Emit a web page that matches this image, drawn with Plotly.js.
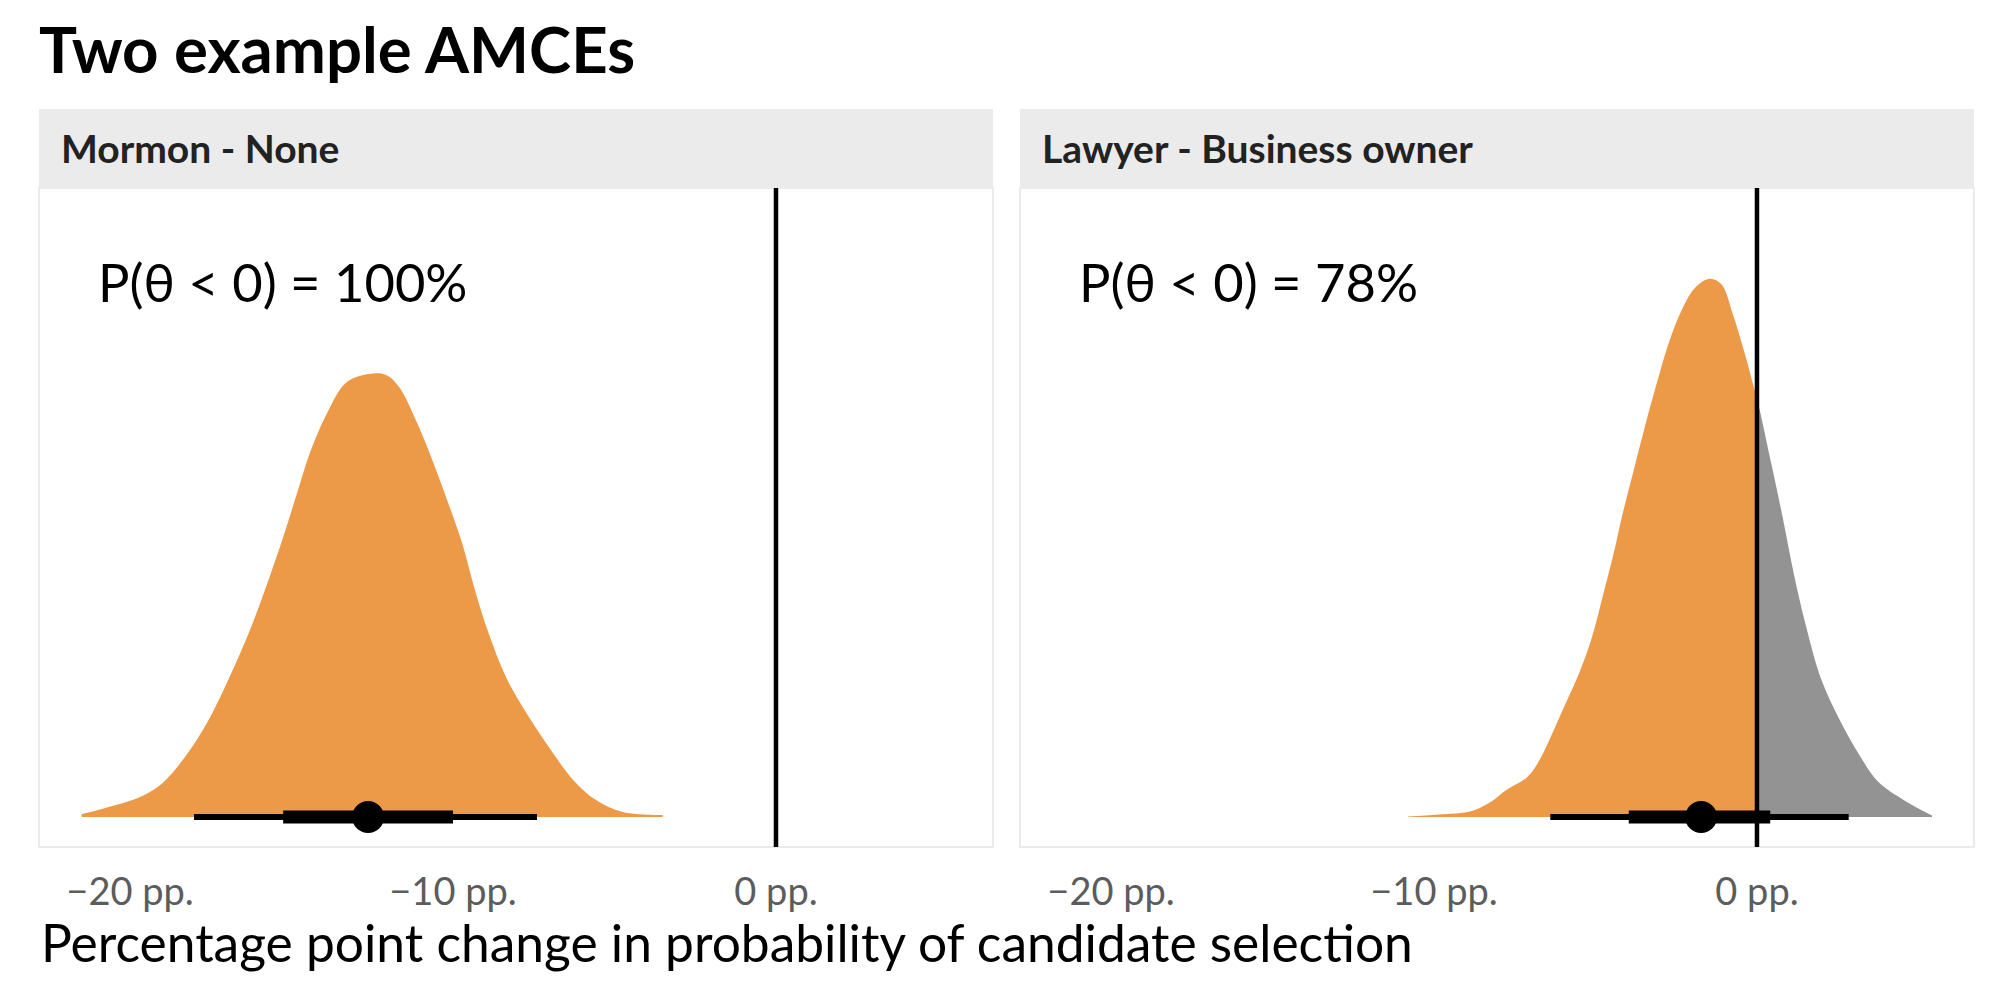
<!DOCTYPE html>
<html>
<head>
<meta charset="utf-8">
<script src="https://cdn.plot.ly/plotly-3.0.1.min.js"></script>
<style>html,body{margin:0;padding:0;background:#fff;}#chart{width:2000px;height:1000px;}</style>
</head>
<body>
<div id="chart"></div>
<script>
// ---- Data ----
var panelTitles = ["Mormon - None", "Lawyer - Business owner"];
var probLabels = ["P(θ < 0) = 100%", "P(θ < 0) = 78%"];
var tickVals = [-20, -10, 0];
var tickText = ["\u221220 pp.", "\u221210 pp.", "0 pp."];

// Posterior density of AMCE, Mormon - None (pp., density)
var mormonX = [-21.50,-20.79,-19.69,-18.99,-18.30,-17.62,-16.92,-16.22,-15.67,-15.26,-14.84,-14.43,-13.87,-13.32,-12.63,-12.07,-11.67,-11.11,-10.56,-10.15,-9.72,-9.32,-8.90,-8.36,-7.65,-6.97,-6.28,-5.57,-4.75,-3.51];
var mormonDens = [0.0011,0.0032,0.0072,0.0123,0.0217,0.0339,0.0505,0.0695,0.0870,0.1010,0.1165,0.1315,0.1465,0.1567,0.1599,0.1596,0.1552,0.1422,0.1264,0.1134,0.0989,0.0819,0.0664,0.0505,0.0361,0.0242,0.0134,0.0061,0.0018,0.0007];

// Posterior density of AMCE, Lawyer - Business owner
var lawyerX = [-10.81,-9.86,-8.80,-8.20,-7.74,-7.14,-6.78,-6.43,-5.95,-5.48,-5.12,-4.77,-4.41,-4.18,-3.82,-3.47,-3.11,-2.76,-2.40,-1.93,-1.46,-1.10,-0.74,-0.38,-0.09,0,0.09,0.45,0.80,1.15,1.51,1.98,2.57,3.17,3.76,4.59,5.42];
var lawyerDens = [0.0002,0.0009,0.0023,0.0058,0.0099,0.0141,0.0196,0.0278,0.0403,0.0527,0.0645,0.0800,0.0965,0.1085,0.1250,0.1410,0.1563,0.1701,0.1812,0.1909,0.1943,0.1923,0.1812,0.1674,0.1549,0.151,0.1467,0.1273,0.1079,0.0873,0.0693,0.0500,0.0348,0.0224,0.0126,0.0058,0.0005];

// Point estimates and intervals
var medians = [-12.63, -1.73];
var inner80Lo = [-15.26, -3.97];
var inner80Hi = [-10.00, 0.41];
var outer95Lo = [-18.02, -6.40];
var outer95Hi = [-7.40, 2.84];

// ---- Styling ----
var ORANGE = "#EC9948";
var GRAY = "#939393";
var FONT = "Lato, 'Open Sans', sans-serif";

var traces = [];
function addDensity(xs, ys, color, xa, ya) {
  traces.push({x: xs, y: ys, type: "scatter", mode: "lines", fill: "tozeroy",
    fillcolor: color, line: {width: 0, color: color, shape: "spline", smoothing: 1}, xaxis: xa, yaxis: ya,
    hoverinfo: "skip", showlegend: false});
}
addDensity(mormonX, mormonDens, ORANGE, "x", "y");
var lxNeg = [], lyNeg = [], lxPos = [], lyPos = [];
for (var i = 0; i < lawyerX.length; i++) {
  if (lawyerX[i] <= 0) { lxNeg.push(lawyerX[i]); lyNeg.push(lawyerDens[i]); }
  if (lawyerX[i] >= 0) { lxPos.push(lawyerX[i]); lyPos.push(lawyerDens[i]); }
}
addDensity(lxNeg, lyNeg, ORANGE, "x2", "y2");
addDensity(lxPos, lyPos, GRAY, "x2", "y2");

var axPairs = [["x","y"],["x2","y2"]];
for (var k = 0; k < 2; k++) {
  traces.push({x: [outer95Lo[k], outer95Hi[k]], y: [0, 0], type: "scatter", mode: "lines",
    line: {color: "#000", width: 6}, xaxis: axPairs[k][0], yaxis: axPairs[k][1], showlegend: false, hoverinfo: "skip"});
  traces.push({x: [inner80Lo[k], inner80Hi[k]], y: [0, 0], type: "scatter", mode: "lines",
    line: {color: "#000", width: 13}, xaxis: axPairs[k][0], yaxis: axPairs[k][1], showlegend: false, hoverinfo: "skip"});
  traces.push({x: [medians[k]], y: [0], type: "scatter", mode: "markers",
    marker: {color: "#000", size: 32}, xaxis: axPairs[k][0], yaxis: axPairs[k][1], showlegend: false, hoverinfo: "skip"});
}

var W = 2000, H = 1000;
var panelX = [[39, 993], [1020, 1974]];
var plotTop = 188, plotBottom = 847, stripTop = 109;
function px(v) { return v / W; }
function py(v) { return 1 - v / H; }

var xRange = [-22.82, 6.72];
var yRange = [-0.01083, 0.22708];

function xaxisDef(dom, anchor) {
  return {domain: dom, range: xRange, anchor: anchor, showgrid: false, zeroline: false, showline: false,
    tickvals: tickVals, ticktext: tickText, ticks: "", ticklabelstandoff: 19,
    tickfont: {family: FONT, size: 38, color: "#5c5c5c"}, fixedrange: true};
}
function yaxisDef(anchor) {
  return {domain: [py(plotBottom), py(plotTop)], range: yRange, anchor: anchor, showgrid: false,
    zeroline: false, showline: false, showticklabels: false, ticks: "", fixedrange: true};
}

var shapes = [], annotations = [];
for (var p = 0; p < 2; p++) {
  shapes.push({type: "rect", xref: "paper", yref: "paper", x0: px(panelX[p][0]), x1: px(panelX[p][1]),
    y0: py(plotTop), y1: py(stripTop), fillcolor: "#EBEBEB", line: {width: 0}, layer: "below"});
  shapes.push({type: "rect", xref: "paper", yref: "paper", x0: px(panelX[p][0]), x1: px(panelX[p][1]),
    y0: py(plotBottom), y1: py(plotTop), fillcolor: "rgba(0,0,0,0)", line: {width: 2, color: "#EBEBEB"}, layer: "below"});
  shapes.push({type: "line", xref: axPairs[p][0], yref: axPairs[p][1] + " domain", x0: 0, x1: 0, y0: 0, y1: 1,
    line: {color: "#000", width: 4.5}, layer: "above"});
  annotations.push({text: "<b>" + panelTitles[p] + "</b>", xref: "paper", yref: "paper",
    x: px(panelX[p][0] + 20), y: py((stripTop + plotTop) / 2), xanchor: "left", yanchor: "middle",
    showarrow: false, font: {family: FONT, size: 39, color: "#222"}});
  annotations.push({text: probLabels[p], xref: axPairs[p][0], yref: axPairs[p][1],
    x: -21.06, y: 0.1935, xanchor: "left", yanchor: "middle", showarrow: false,
    font: {family: FONT, size: 52.5, color: "#000"}});
}
annotations.push({text: "Percentage point change in probability of candidate selection", xref: "paper", yref: "paper",
  x: px(39), y: py(942), xanchor: "left", yanchor: "middle", showarrow: false,
  font: {family: FONT, size: 51.5, color: "#000"}});

var layout = {
  width: W, height: H, margin: {l: 0, r: 0, t: 0, b: 0},
  paper_bgcolor: "#fff", plot_bgcolor: "#fff",
  title: {text: "<b>Two example AMCEs</b>", x: px(39), xanchor: "left", xref: "paper",
    y: py(51), yanchor: "middle", yref: "container", font: {family: FONT, size: 63.5, color: "#000"}},
  xaxis: xaxisDef([px(panelX[0][0]), px(panelX[0][1])], "y"),
  yaxis: yaxisDef("x"),
  xaxis2: xaxisDef([px(panelX[1][0]), px(panelX[1][1])], "y2"),
  yaxis2: yaxisDef("x2"),
  shapes: shapes, annotations: annotations, showlegend: false
};
Plotly.newPlot("chart", traces, layout, {displayModeBar: false, staticPlot: true});
</script>
</body>
</html>
